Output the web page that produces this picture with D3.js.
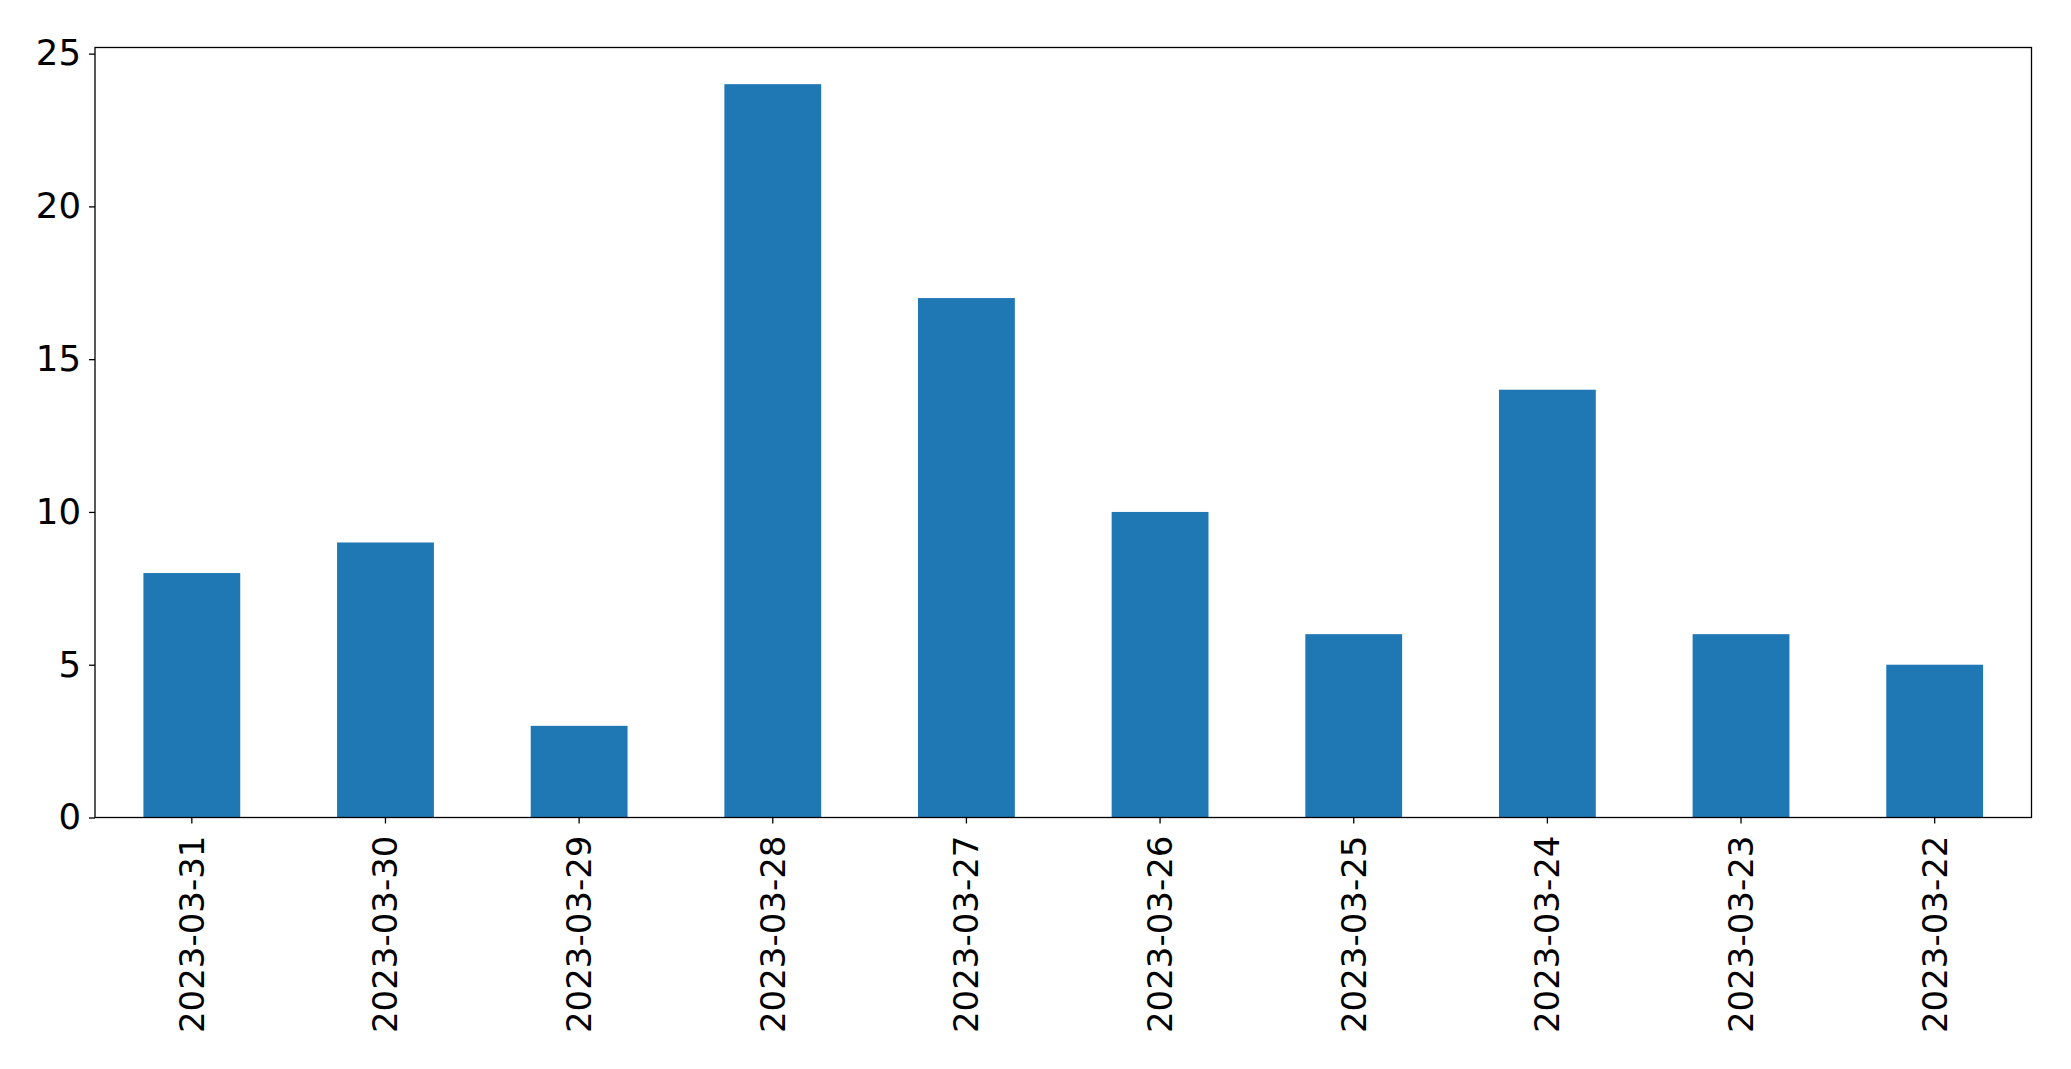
<!DOCTYPE html>
<html>
<head>
<meta charset="utf-8">
<script src="https://cdn.jsdelivr.net/npm/d3@7.9.0/dist/d3.min.js"></script>
<style>
  html, body { margin: 0; padding: 0; background: #fff; }
  svg { display: block; }
  .tick text { font-family: "DejaVu Sans", sans-serif; font-size: 34px; fill: #000; }
  .y-axis .tick text { font-size: 35.5px; }
</style>
</head>
<body>
<svg id="chart" width="2071" height="1069"></svg>
<script>
const dates = ['2023-03-31', '2023-03-30', '2023-03-29', '2023-03-28', '2023-03-27',
               '2023-03-26', '2023-03-25', '2023-03-24', '2023-03-23', '2023-03-22'];
const counts = [8, 9, 3, 24, 17, 10, 6, 14, 6, 5];
const yTicks = [0, 5, 10, 15, 20, 25];

const margin = { top: 47.5, right: 39.5, bottom: 251.5, left: 95 };
const width = 2071, height = 1069;

const svg = d3.select('#chart');

let x = d3.scaleBand()
    .domain(dates)
    .range([margin.left, width - margin.right])
    .paddingInner(0.5)
    .paddingOuter(0.25);

let y = d3.scaleLinear()
    .domain([0, d3.max(counts) * 1.05])
    .range([height - margin.bottom, margin.top]);

// bars
svg.append('g')
    .selectAll('rect')
    .data(dates)
    .enter()
    .append('rect')
    .attr('x', d => x(d))
    .attr('y', (d, i) => y(counts[i]))
    .attr('width', x.bandwidth())
    .attr('height', (d, i) => y(0) - y(counts[i]))
    .attr('fill', '#1f77b4');

// x axis
let xAxis = svg.append('g')
    .attr('transform', `translate(0,${height - margin.bottom})`)
    .call(d3.axisBottom(x).tickSize(6).tickPadding(8));
xAxis.select('.domain').remove();
xAxis.selectAll('.tick line').attr('stroke', '#000').attr('stroke-width', 1.3);
xAxis.selectAll('.tick text')
    .attr('transform', 'rotate(-90)')
    .attr('text-anchor', 'end')
    .attr('x', -18)
    .attr('y', 0)
    .attr('dy', '0.35em');

// y axis
let yAxis = svg.append('g')
    .attr('class', 'y-axis')
    .attr('transform', `translate(${margin.left},0)`)
    .call(d3.axisLeft(y).tickValues(yTicks).tickSize(6).tickPadding(8));
yAxis.select('.domain').remove();
yAxis.selectAll('.tick line').attr('stroke', '#000').attr('stroke-width', 1.3);

// frame
svg.append('rect')
    .attr('x', margin.left)
    .attr('y', margin.top)
    .attr('width', width - margin.left - margin.right)
    .attr('height', height - margin.top - margin.bottom)
    .attr('fill', 'none')
    .attr('stroke', '#000')
    .attr('stroke-width', 1.3);
</script>
</body>
</html>
